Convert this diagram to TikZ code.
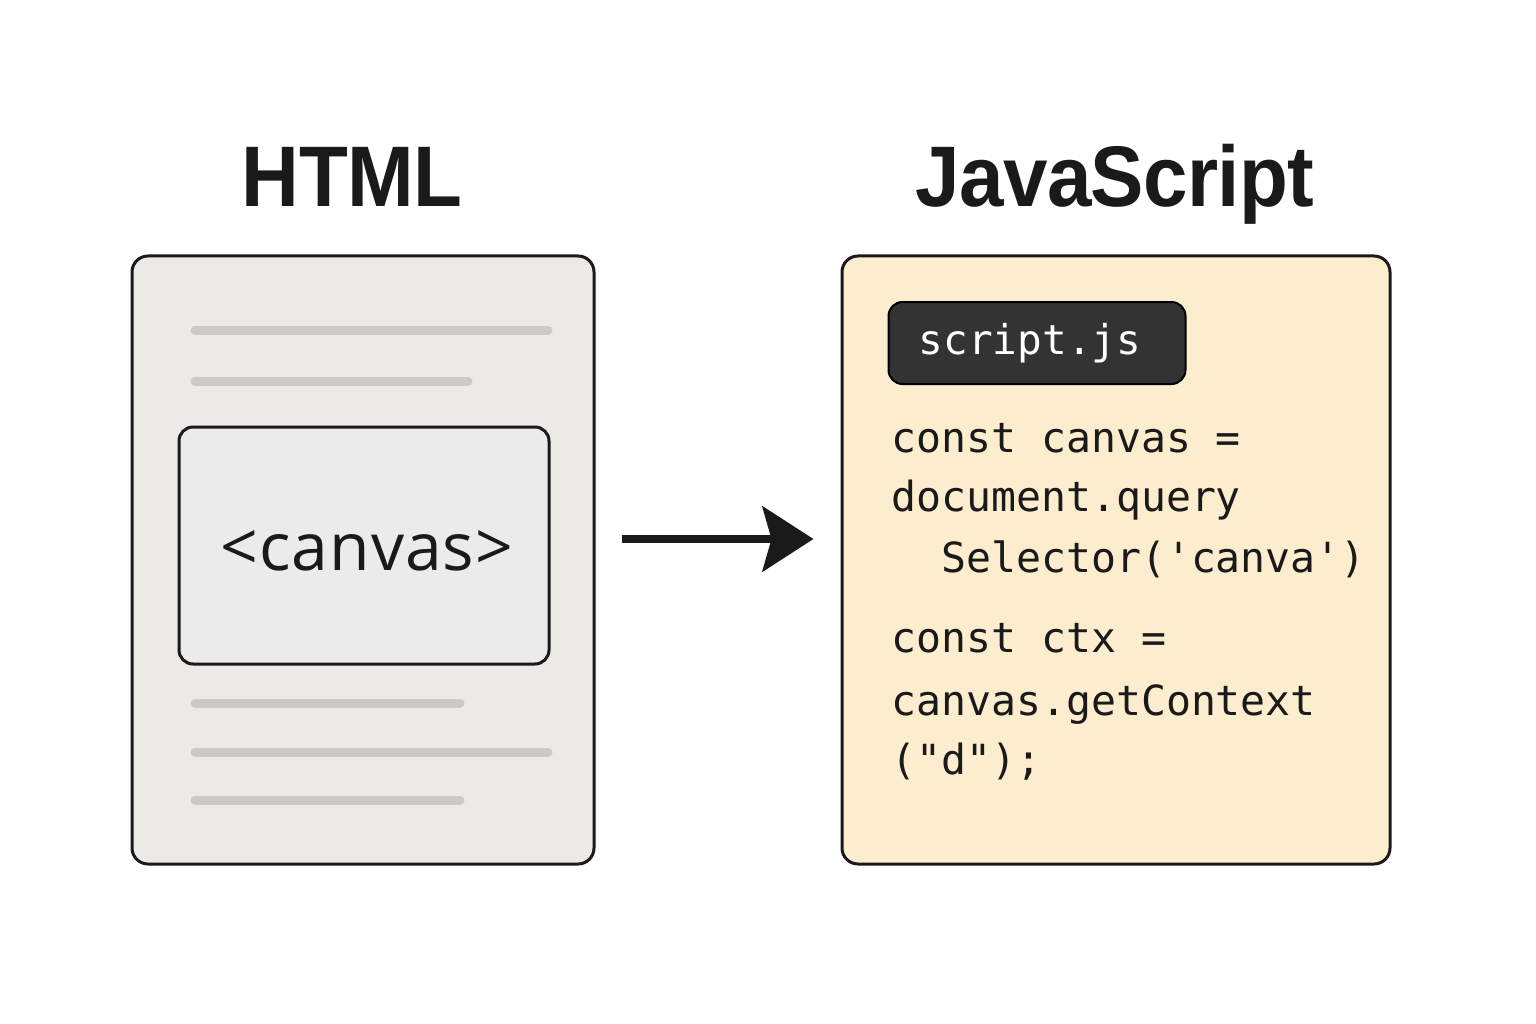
\documentclass[tikz,border=0pt]{standalone}
\usepackage{fontspec}
\setmainfont{Liberation Sans}
\setmonofont{DejaVu Sans Mono}
\newfontfamily\titlefont{Liberation Sans}[FakeStretch=0.93, LetterSpace=-0.8]
\newfontfamily\tagfont{Open Sans}[LetterSpace=1.5]
\usetikzlibrary{arrows.meta}
\definecolor{ink}{HTML}{1A1A1A}
\definecolor{pagefill}{HTML}{ECEAE7}
\definecolor{canvfill}{HTML}{EBEBEB}
\definecolor{linegray}{HTML}{CCCAC6}
\definecolor{jsfill}{HTML}{FDEDCF}
\definecolor{pillfill}{HTML}{333333}
\tikzset{
  panel/.style={draw=ink, line width=3pt, rounded corners=16pt, inner sep=0pt},
  textline/.style={draw=linegray, line width=9pt, line cap=round},
  title/.style={text=ink, font=\titlefont\bfseries\fontsize{86}{86}\selectfont, anchor=base},
  code/.style={text=ink, font=\ttfamily\fontsize{41.5}{41.5}\selectfont, anchor=base west, inner sep=0pt},
  flow/.style={draw=ink, line width=8pt, -{Stealth[length=51pt,width=65pt,inset=9pt]}}
}
\begin{document}
\begin{tikzpicture}[x=1pt,y=-1pt]
\useasboundingbox[fill=white] (0,0) rectangle (1536,1024);

\node[title] (thtml) at (352,207) {HTML};
\node[title] (tjs) at (1115,207) {JavaScript};

\node[panel, fill=pagefill, minimum width=462pt, minimum height=608pt] (html) at (363,560) {};
\draw[textline] (195,330) -- (548,330);
\draw[textline] (195,381) -- (468,381);
\node[panel, fill=canvfill, minimum width=370pt, minimum height=237pt, rounded corners=14pt] (canvas) at (364,545.5)
  {\hspace*{6pt}\raisebox{-5pt}[\height][\depth]{\tagfont\fontsize{66}{66}\selectfont\color{ink}<canvas>}};
\draw[textline] (195,703) -- (460,703);
\draw[textline] (195,752) -- (548,752);
\draw[textline] (195,800) -- (460,800);

\node[panel, fill=jsfill, minimum width=548pt, minimum height=608pt] (js) at (1116,560) {};
\node[draw=black, line width=2pt, fill=pillfill, rounded corners=14pt, minimum width=297pt, minimum height=82pt,
  text=white, font=\ttfamily\fontsize{41}{41}\selectfont] (pill) at (1037,343) {script.js\hspace*{14pt}};

\node[code] (c1) at (891,452) {const canvas =};
\node[code] (c2) at (891,511) {document.query};
\node[code] (c3) at (891,572) {\ \ Selector('canva')};
\node[code] (c4) at (891,652) {const ctx =};
\node[code] (c5) at (891,715) {canvas.getContext};
\node[code] (c6) at (891,774) {("d");};

\draw[flow, shorten <=26pt, shorten >=27pt] ([yshift=21pt]html.east) -- ([yshift=21pt]js.west);
\end{tikzpicture}
\end{document}
